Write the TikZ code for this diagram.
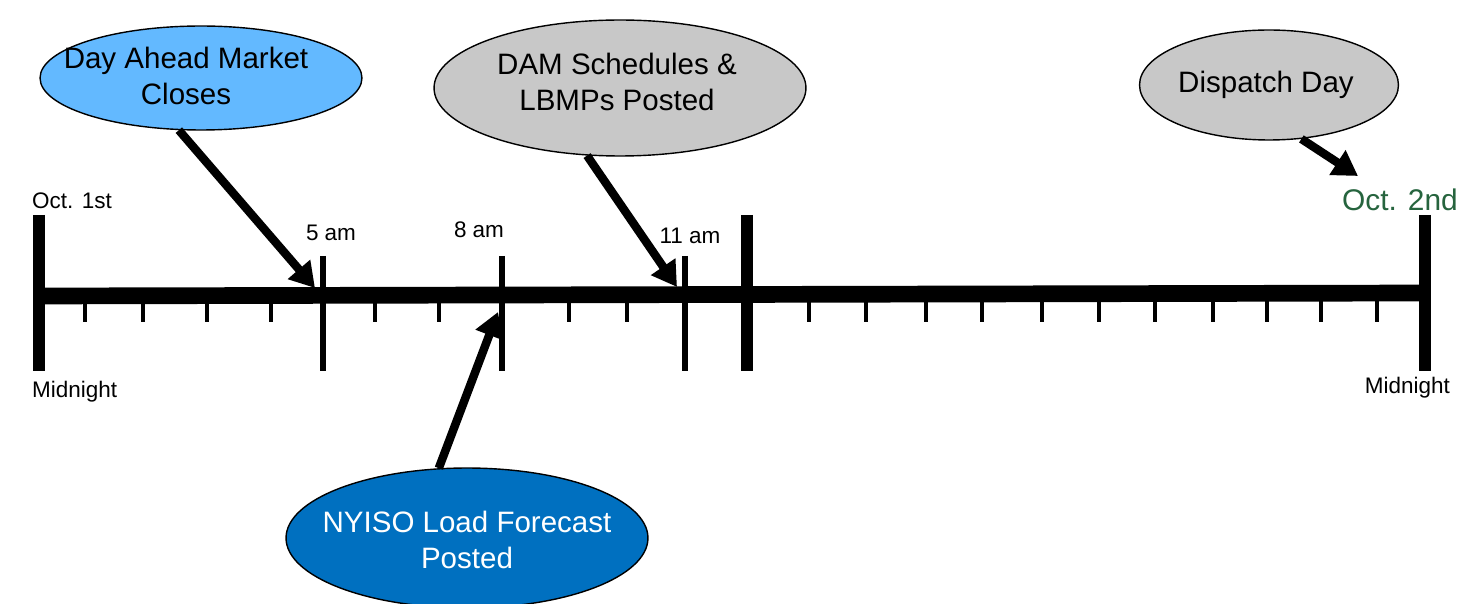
\documentclass[tikz,border=0pt]{standalone}
\usepackage{fontspec}
\setmainfont{Liberation Sans}
\usetikzlibrary{shapes.geometric,arrows.meta}
\definecolor{lightblue}{RGB}{99,185,255}
\definecolor{darkblue}{RGB}{0,112,192}
\definecolor{bubblegray}{RGB}{200,200,200}
\definecolor{dategreen}{RGB}{38,100,62}
\begin{document}
\begin{tikzpicture}[x=0.02cm,y=-0.02cm,
  bubble/.style={ellipse,draw,line width=0.8pt,inner sep=0pt},
  bubbletext/.style={align=center,font=\fontsize{16.8}{20}\selectfont},
  timetext/.style={font=\fontsize{12.8}{15}\selectfont},
  pointer/.style={line width=4.8pt,-{Triangle[length=14pt,width=16pt]}}]
\useasboundingbox (0,0) rectangle (1465,604);
% timeline
\draw[line width=9.5pt] (39,296) -- (1425,293);
\foreach \x in {39,747,1425}
  \draw[line width=6.8pt] (\x,215) -- (\x,371);
\foreach \x in {323,502,685}
  \draw[line width=3.2pt] (\x,256) -- (\x,371);
\foreach \x in {85,143,207,271,375,439,569,627,809,866,926,982,1042,1099,1155,1213,1267,1321,1377}
  \draw[line width=2.8pt] (\x,295) -- (\x,322);
% labels
\node[timetext,anchor=west] (oct1) at (26,201) {Oct. 1st};
\node[timetext,anchor=west] (mid1) at (26,392) {Midnight};
\node[timetext,anchor=east] (mid2) at (1456,388) {Midnight};
\node[timetext] (h5) at (331,233) {5 am};
\node[timetext] (h8) at (479,230) {8 am};
\node[timetext] (h11) at (690,236) {11 am};
\node[anchor=east,text=dategreen,font=\fontsize{17}{20}\selectfont] (oct2) at (1464,200) {Oct. 2nd};
% bubbles
\node[bubble,fill=lightblue,minimum width=6.44cm,minimum height=2.08cm] (dam) at (201,78) {};
\node[bubbletext] (damtext) at (186,76) {Day Ahead Market\\Closes};
\node[bubble,fill=bubblegray,minimum width=7.44cm,minimum height=2.72cm] (sched) at (620,88) {};
\node[bubbletext] (schedtext) at (617,82) {DAM Schedules \&\\LBMPs Posted};
\node[bubble,fill=bubblegray,minimum width=5.18cm,minimum height=2.2cm] (disp) at (1269,85) {};
\node[bubbletext] (disptext) at (1266,85) {Dispatch Day};
\node[bubble,fill=darkblue,minimum width=7.24cm,minimum height=2.8cm] (load) at (467,538) {};
\node[bubbletext,text=white] (loadtext) at (467,540) {NYISO Load Forecast\\Posted};
% arrows
\coordinate (t5) at (315,288);
\coordinate (t8) at (498,312);
\coordinate (t11) at (677,287);
\coordinate (t24) at (1358,176);
\draw[pointer] (dam.-113) -- (t5);
\draw[pointer] (load.112) -- (t8);
\draw[pointer] (sched.-116) -- (t11);
\draw[pointer] (disp.-59) -- (t24);
\end{tikzpicture}
\end{document}
